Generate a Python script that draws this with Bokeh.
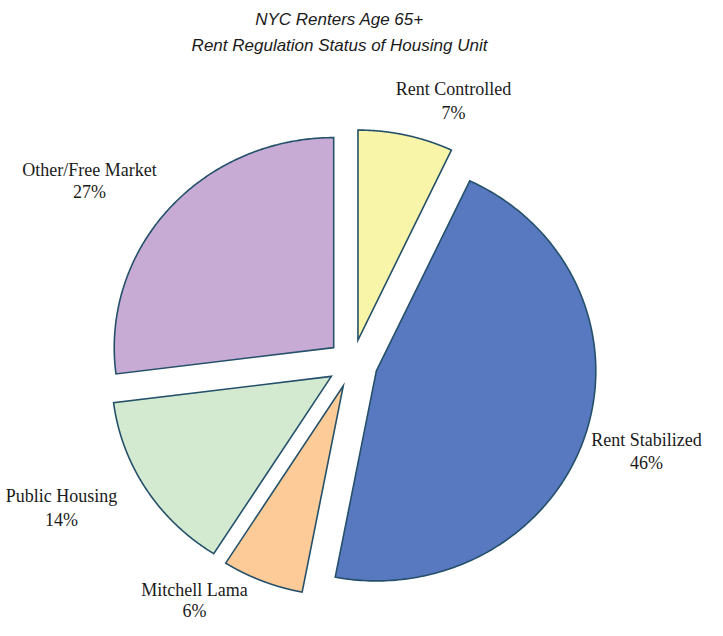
import numpy as np
from bokeh.plotting import figure
from bokeh.models import Range1d
from bokeh.core.properties import value
from bokeh.embed import file_html
from bokeh.resources import INLINE

# ---- data ----
categories = ["Rent Controlled", "Rent Stabilized", "Mitchell Lama", "Public Housing", "Other/Free Market"]
shares = [7, 46, 6, 14, 27]
pct_labels = ["7%", "46%", "6%", "14%", "27%"]
colors = ["#F8F4A8", "#5878C0", "#FCCB98", "#D4EAD0", "#C7ABD4"]
title_lines = ["NYC Renters Age 65+", "Rent Regulation Status of Housing Unit"]

# ---- layout (page pixel coords, converted below) ----
W, H = 707, 620
def X(px):
    return px - 8
def Y(py):
    return 628 - py

label_x = [461, 654, 202, 69, 97]
label_y1 = [96, 447, 597, 503, 177]
label_y2 = [120, 470, 618, 527, 199]

p = figure(width=W, height=H, x_range=Range1d(0, W), y_range=Range1d(0, H),
           x_axis_type=None, y_axis_type=None, toolbar_location=None,
           output_backend="svg", min_border=0)
p.grid.visible = False
p.outline_line_color = None
p.background_fill_color = "white"
p.border_fill_color = "white"

# pie geometry: slices clockwise from 12 o'clock, slightly wider than tall
frac = np.array(shares, dtype=float) / sum(shares)
cum = np.concatenate([[0.0], np.cumsum(frac)])
cx, cy = X(360), Y(371)
explode = 24
R = 210
stretch = 1.045

px_list, py_list = [], []
for a0, a1 in zip(cum[:-1], cum[1:]):
    t0 = np.pi / 2 - a0 * 2 * np.pi
    t1 = np.pi / 2 - a1 * 2 * np.pi
    tm = (t0 + t1) / 2
    ox = explode * np.cos(tm)
    oy = explode * np.sin(tm)
    t = np.linspace(t0, t1, 200)
    xs = np.concatenate([[ox], ox + R * np.cos(t)])
    ys = np.concatenate([[oy], oy + R * np.sin(t)])
    px_list.append(list(cx + stretch * xs))
    py_list.append(list(cy + ys))

p.patches(xs=px_list, ys=py_list, fill_color=colors, line_color="#24506a",
          line_width=1.6, line_join="miter")

serif = value("Liberation Serif")
p.text(x=[X(v) for v in label_x], y=[Y(v) for v in label_y1], text=categories,
       text_font=serif, text_font_size="18px", text_align="center",
       text_baseline="middle", text_color="#1a1a1a")
p.text(x=[X(v) for v in label_x], y=[Y(v) for v in label_y2], text=pct_labels,
       text_font=serif, text_font_size="18px", text_align="center",
       text_baseline="middle", text_color="#1a1a1a")

p.text(x=[X(347), X(347)], y=[Y(27), Y(53)], text=title_lines,
       text_font=value("Liberation Sans"), text_font_style="italic",
       text_font_size="17px", text_align="center", text_baseline="middle",
       text_color="#1a1a1a")

open("out.html", "w").write(file_html(p, INLINE))
